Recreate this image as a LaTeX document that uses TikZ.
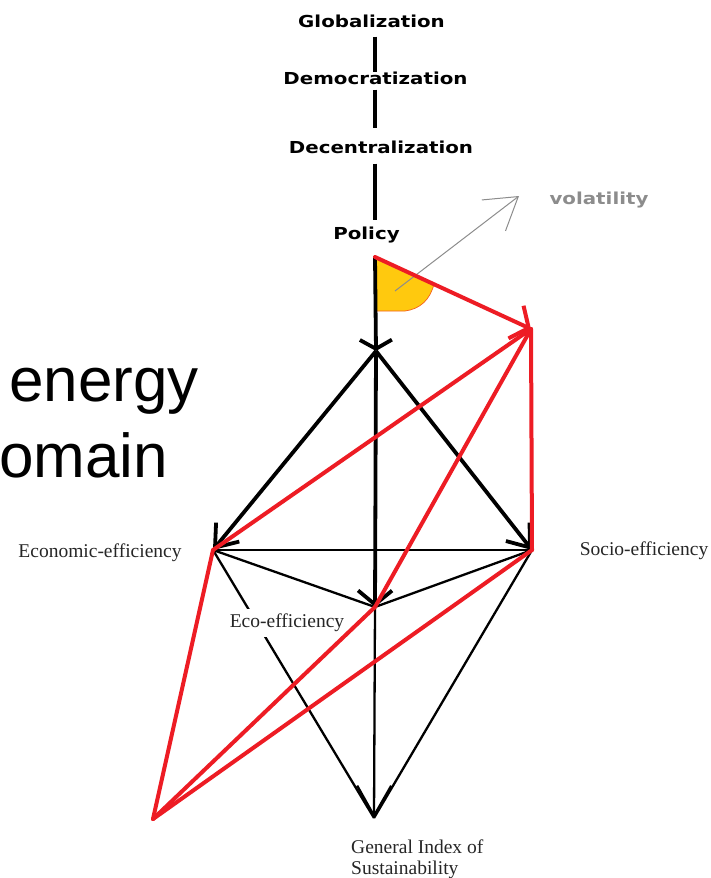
\documentclass[tikz,border=0pt]{standalone}
\usepackage{fontspec}
\setmainfont{Liberation Serif}
\newfontfamily\topfont{DejaVu Sans}[FakeStretch=1.2]
\newfontfamily\bigfont{Liberation Sans}
\usetikzlibrary{arrows.meta}
\definecolor{paintred}{HTML}{ED1C24}
\definecolor{paintgold}{HTML}{FFC90E}
\definecolor{arrowgray}{HTML}{8C8C8C}

\begin{document}
\begin{tikzpicture}[x=1pt, y=-1pt,
    level/.style={font=\topfont\bfseries\fontsize{16.5}{18}\selectfont, inner sep=0pt},
    dim/.style={font=\fontsize{19.5}{21}\selectfont, text=black!85, inner sep=1pt},
    heavy/.style={line width=3.8pt, draw=black},
    light/.style={line width=2.3pt, draw=black},
    redline/.style={line width=4pt, draw=paintred, line cap=round},
    barb/.style={-{Straight Barb[length=20pt, width=30pt]}}]
\useasboundingbox (0,0) rectangle (711,878);

\node[font=\bigfont\fontsize{62}{70}\selectfont, anchor=base west, inner sep=0pt] (energy) at (9,401) {energy};
\node[font=\bigfont\fontsize{62}{70}\selectfont, anchor=base west, inner sep=0pt] (omain) at (-1,477) {omain};

\coordinate (axis) at (375,0);
\node[level] (glob) at (371.5,21) {Globalization};
\node[level] (democ) at (375.5,78) {Democratization};
\node[level] (decent) at (381,147) {Decentralization};
\node[level] (policy) at (366.5,235.5) {Policy};
\node[level, text=arrowgray] (vol) at (599,200) {volatility};
\draw[line width=4.5pt, shorten <=9pt, shorten >=-0.5pt] (glob.south -| axis) -- (democ.north -| axis);
\draw[line width=4.5pt, shorten <=5pt, shorten >=12.5pt] (democ.south -| axis) -- (decent.north -| axis);
\draw[line width=4.5pt, shorten <=10pt, shorten >=7pt] (decent.south -| axis) -- (policy.north -| axis);

\coordinate (pol) at (375,257);
\coordinate (junc) at (376,351);
\coordinate (econ) at (213,550);
\coordinate (socio) at (532,550);
\coordinate (eco) at (375,607);
\coordinate (gis) at (374,818);
\coordinate (peak) at (531,329);
\coordinate (foot) at (153,819);
\coordinate (voltail) at (395,291);
\coordinate (volhead) at (519,196);

\filldraw[fill=paintgold, draw=paintred!60!paintgold, line width=0.7pt]
  (pol) -- (375,311) -- (405,311) .. controls (420,309) and (430,300) .. (434,284) -- cycle;
\draw[arrowgray, line width=1pt, -{Straight Barb[length=31pt, width=39pt]}] (voltail) -- (volhead);

\draw[heavy, -{Straight Barb[length=9pt, width=32pt]}] (pol) -- (junc);
\draw[heavy, -{Straight Barb[length=14pt, width=34pt]}] (junc) -- (eco);
\draw[heavy, barb] (junc) -- (econ);
\draw[heavy, barb] (junc) -- (socio);
\draw[light] (econ) -- (socio);
\draw[light] (econ) -- (eco);
\draw[light] (socio) -- (eco);
\draw[light, -{Straight Barb[length=30pt, width=34pt]}] (eco) -- (gis);
\draw[light] (econ) -- (gis);
\draw[light] (socio) -- (gis);

\node[dim] (econlbl) at (100,553) {Economic-efficiency};
\node[dim] (sociolbl) at (644,551) {Socio-efficiency};
\node[dim, fill=white, inner ysep=5pt] (ecolbl) at (287,623) {Eco-efficiency};
\node[dim, align=left, anchor=north west] (gislbl) at (350,838.5) {General Index of\\Sustainability};

\draw[redline, -{Straight Barb[length=14pt, width=36pt]}] (pol) -- (peak);
\draw[redline] (peak) -- (socio);
\draw[redline] (econ) -- (peak);
\draw[redline] (eco) -- (peak);
\draw[redline] (foot) -- (eco);
\draw[redline] (socio) -- (foot);
\draw[redline] (econ) -- (foot);
\end{tikzpicture}
\end{document}
